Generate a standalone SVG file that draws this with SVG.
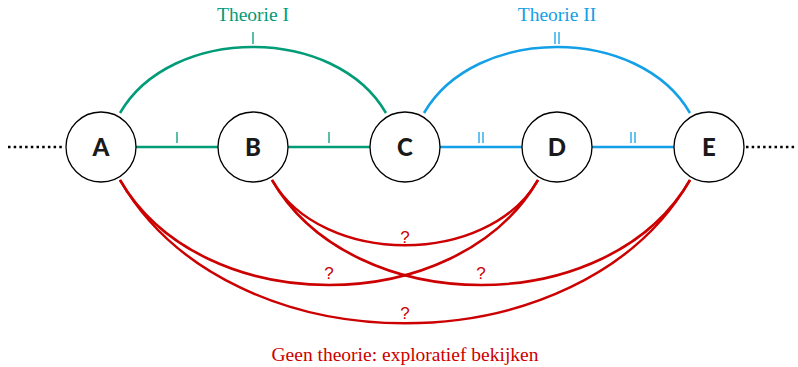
<svg xmlns="http://www.w3.org/2000/svg" width="798" height="367" viewBox="0 0 798 367">
<style>
.g{stroke:#009B77;fill:none;stroke-width:2.5}
.b{stroke:#13A0E6;fill:none;stroke-width:2.5}
.r{stroke:#CC0000;fill:none;stroke-width:2.5}
.tg{stroke:#009B77;stroke-width:1.3}
.tb{stroke:#13A0E6;stroke-width:1.3}
.dot{stroke:#000;stroke-width:2.5;stroke-dasharray:2.5 3.2;fill:none}
.node circle{fill:#fff;stroke:#000;stroke-width:1.3}
.node text{font-family:"Lato","Liberation Sans",sans-serif;font-weight:900;font-size:24px;fill:#1a1a1a;text-anchor:middle}
.lbl{font-family:"Liberation Serif",serif;font-size:19.5px;text-anchor:middle}
.q{font-family:"Liberation Sans",sans-serif;font-size:17px;fill:#CC0000;text-anchor:middle}
</style>
<g id="connectors">
<line class="dot" x1="8" y1="147" x2="64" y2="147"/>
<line class="dot" x1="746" y1="147" x2="796" y2="147"/>
<path class="g" d="M120,113 C171,25 335,25 386,113"/>
<path class="b" d="M424,113 C475,25 639,25 690,113"/>
<line class="g" x1="136" y1="147" x2="218" y2="147"/>
<line class="g" x1="288" y1="147" x2="370" y2="147"/>
<line class="b" x1="440" y1="147" x2="522" y2="147"/>
<line class="b" x1="592" y1="147" x2="674" y2="147"/>
<line class="tg" x1="253" y1="32" x2="253" y2="44"/>
<line class="tg" x1="177" y1="132" x2="177" y2="143"/>
<line class="tg" x1="329" y1="132" x2="329" y2="143"/>
<line class="tb" x1="555" y1="32" x2="555" y2="44"/>
<line class="tb" x1="559" y1="32" x2="559" y2="44"/>
<line class="tb" x1="479" y1="132" x2="479" y2="143"/>
<line class="tb" x1="483" y1="132" x2="483" y2="143"/>
<line class="tb" x1="631" y1="132" x2="631" y2="143"/>
<line class="tb" x1="635" y1="132" x2="635" y2="143"/>
<path class="r" d="M120,180 C201,320 457,320 538,180"/>
<path class="r" d="M120,180 C230,371 580,371 690,180"/>
<path class="r" d="M272,180 C322,267 488,267 538,180"/>
<path class="r" d="M272,180 C353,320 609,320 690,180"/>
<text class="q" x="405" y="243">?</text>
<text class="q" x="329" y="279">?</text>
<text class="q" x="481" y="279">?</text>
<text class="q" x="405" y="319">?</text>
</g>
<g id="A" class="node"><circle cx="101" cy="147" r="35"/><text x="101" y="156">A</text></g>
<g id="B" class="node"><circle cx="253" cy="147" r="35"/><text x="253" y="156">B</text></g>
<g id="C" class="node"><circle cx="405" cy="147" r="35"/><text x="405" y="156">C</text></g>
<g id="D" class="node"><circle cx="557" cy="147" r="35"/><text x="557" y="156">D</text></g>
<g id="E" class="node"><circle cx="709" cy="147" r="35"/><text x="709" y="156">E</text></g>
<text class="lbl" x="253" y="21" fill="#009B77">Theorie I</text>
<text class="lbl" x="557" y="21" fill="#13A0E6">Theorie II</text>
<text class="lbl" x="405" y="361" fill="#CC0000">Geen theorie: exploratief bekijken</text>
</svg>
